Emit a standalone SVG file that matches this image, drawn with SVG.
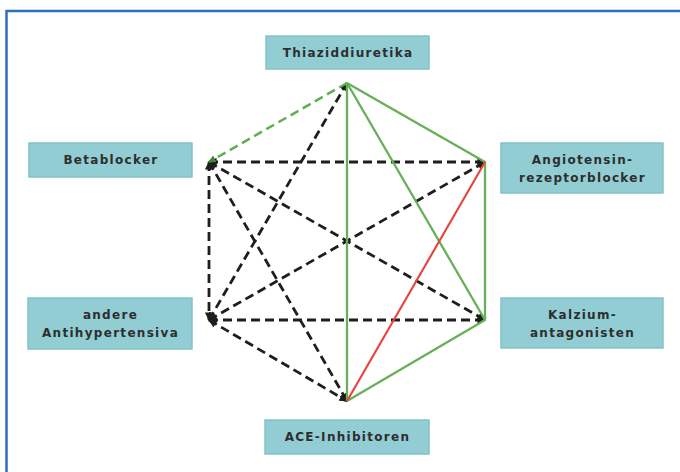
<svg xmlns="http://www.w3.org/2000/svg" width="680" height="472" viewBox="0 0 680 472">
<defs>
<style>
.box{fill:#93cdd4;stroke:#82c2ca;stroke-width:1.5}
.lbl{font-family:"DejaVu Sans",Verdana,sans-serif;font-weight:bold;font-size:12px;letter-spacing:1.3px;fill:#2e2e2e;text-anchor:middle;dominant-baseline:central}
.dk{stroke:#1e1e1e;stroke-width:2.8;stroke-dasharray:9 5;fill:none;marker-start:url(#ab);marker-end:url(#ab)}
.gd{stroke:#5fae4f;stroke-width:2.5;stroke-dasharray:9 5;fill:none;marker-end:url(#ag)}
.gs{stroke:#66b158;stroke-width:2.3;fill:none}
.rs{stroke:#e8423a;stroke-width:2.1;fill:none}
</style>
<marker id="ab" viewBox="0 0 10 10" refX="9" refY="5" markerWidth="3" markerHeight="3" orient="auto-start-reverse" markerUnits="strokeWidth">
<path d="M0,0 L10,5 L0,10 Z" fill="#1e1e1e"/>
</marker>
<marker id="ag" viewBox="0 0 10 10" refX="9" refY="5" markerWidth="3" markerHeight="3" orient="auto" markerUnits="strokeWidth">
<path d="M0,0 L10,5 L0,10 Z" fill="#3d8a35"/>
</marker>
</defs>
<rect width="680" height="472" fill="#fff"/>
<g id="frame" fill="none" stroke="#2f6fc0" stroke-width="2.5">
<path d="M6.5,472 V11 H680"/>
</g>
<g id="connectors">
<line class="dk" x1="209" y1="162" x2="485" y2="162"/>
<line class="dk" x1="209" y1="320" x2="485" y2="320"/>
<line class="dk" x1="209" y1="162" x2="209" y2="320"/>
<line class="dk" x1="209" y1="162" x2="485" y2="320"/>
<line class="dk" x1="209" y1="320" x2="485" y2="162"/>
<line class="dk" x1="209" y1="162" x2="347" y2="401"/>
<line class="dk" x1="209" y1="320" x2="347" y2="401"/>
<line class="dk" x1="209" y1="320" x2="347" y2="83"/>
<line class="gd" x1="347" y1="83" x2="209" y2="162"/>
<line class="gs" x1="347" y1="83" x2="485" y2="162"/>
<line class="gs" x1="347" y1="83" x2="485" y2="320"/>
<line class="gs" x1="347" y1="83" x2="347" y2="401"/>
<line class="gs" x1="485" y1="162" x2="485" y2="320"/>
<line class="gs" x1="485" y1="320" x2="347" y2="401"/>
<line class="rs" x1="485" y1="162" x2="347" y2="401"/>
</g>
<g id="thiazid">
<rect class="box" x="266" y="36" width="163" height="33"/>
<text class="lbl" x="348" y="52.5">Thiaziddiuretika</text>
</g>
<g id="betablocker">
<rect class="box" x="29" y="143" width="163" height="34"/>
<text class="lbl" x="111" y="160">Betablocker</text>
</g>
<g id="angiotensin">
<rect class="box" x="501" y="143" width="162" height="50"/>
<text class="lbl" x="582.5" y="160">Angiotensin-</text>
<text class="lbl" x="582.5" y="178">rezeptorblocker</text>
</g>
<g id="andere">
<rect class="box" x="28" y="298" width="164" height="51"/>
<text class="lbl" x="110.5" y="314.5">andere</text>
<text class="lbl" x="110.5" y="332.5">Antihypertensiva</text>
</g>
<g id="kalzium">
<rect class="box" x="501" y="298" width="162" height="50"/>
<text class="lbl" x="582.5" y="314.5">Kalzium-</text>
<text class="lbl" x="582.5" y="332.5">antagonisten</text>
</g>
<g id="ace">
<rect class="box" x="265" y="420" width="164" height="34"/>
<text class="lbl" x="347.5" y="437">ACE-Inhibitoren</text>
</g>
</svg>
